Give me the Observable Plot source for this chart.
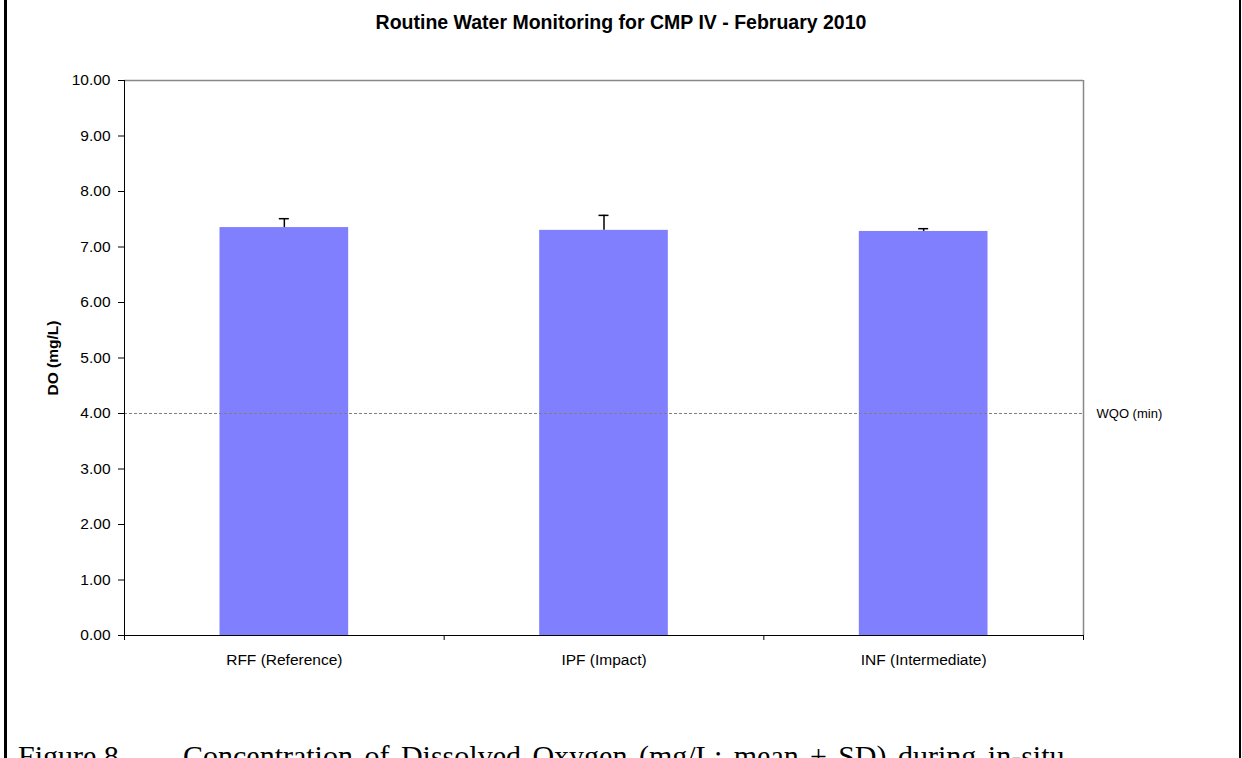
<!DOCTYPE html>
<html>
<head>
<meta charset="utf-8">
<script src="https://cdn.jsdelivr.net/npm/d3@7"></script>
<script src="https://cdn.jsdelivr.net/npm/@observablehq/plot@0.6"></script>
<style>
  html, body { margin: 0; padding: 0; background: #fff; }
  #page { position: relative; width: 1242px; height: 758px; overflow: hidden; background: #fff; }
  .bl { position: absolute; top: 0; width: 2.5px; height: 758px; background: #000; }
  #title { position: absolute; left: 0; width: 1242px; top: 12.5px; text-align: center;
    font-family: "Liberation Sans", Arial, sans-serif; font-weight: bold; font-size: 19.5px; line-height: 19.5px; color: #000; }
  #caption { position: absolute; left: 18px; top: 741.4px; white-space: nowrap; word-spacing: 4px;
    font-family: "Liberation Serif", "Times New Roman", serif; font-size: 30px; line-height: 30px; color: #000; }
  #caption .fig { display: inline-block; width: 165px; word-spacing: 0; }
  #chart { position: absolute; left: 0; top: 0; }
</style>
</head>
<body>
<div id="page">
  <div class="bl" style="left:4px"></div>
  <div class="bl" style="left:1238.8px"></div>
  <div id="title"></div>
  <div id="chart"></div>
  <div id="caption"><span class="fig">Figure 8</span>Concentration of Dissolved Oxygen (mg/L; mean ± SD) during in-situ</div>
</div>
<script>
const titleText = "Routine Water Monitoring for CMP IV - February 2010";
const yLabel = "DO (mg/L)";
const categories = ["RFF (Reference)", "IPF (Impact)", "INF (Intermediate)"];
const means = [7.35, 7.30, 7.28];
const sds = [0.16, 0.27, 0.05];
const yTicks = [0, 1, 2, 3, 4, 5, 6, 7, 8, 9, 10];
const wqoValue = 4;
const wqoLabel = "WQO (min)";

document.getElementById("title").textContent = titleText;

const data = categories.map((c, i) => ({cat: c, i, mean: means[i], top: means[i] + sds[i]}));
const bounds = d3.range(categories.length + 1);
const centers = categories.map((c, i) => i + 0.5);

const chart = Plot.plot({
  width: 1242,
  height: 700,
  marginLeft: 124,
  marginRight: 159,
  marginTop: 80,
  marginBottom: 65,
  style: {fontFamily: "'Liberation Sans', Arial, sans-serif", fontSize: "15.5px", color: "#000", background: "transparent"},
  x: {type: "linear", domain: [0, categories.length]},
  y: {domain: [0, 10]},
  marks: [
    Plot.rectY(data, {x1: d => d.i, x2: d => d.i + 1, y1: 0, y2: "mean", fill: "#8080FF", insetLeft: 95.5, insetRight: 95.5}),
    Plot.ruleY([wqoValue], {x1: 0, x2: categories.length, stroke: "#808080", strokeWidth: 1, strokeDasharray: "3,2"}),
    Plot.text([wqoLabel], {x: categories.length, y: wqoValue, dx: 13, textAnchor: "start", fontSize: 13, fill: "#000"}),
    Plot.ruleX(data, {x: d => d.i + 0.5, y1: "mean", y2: "top", stroke: "#000", strokeWidth: 1.5}),
    Plot.ruleY(data, {y: "top", x1: d => d.i + 0.5, x2: d => d.i + 0.5, insetLeft: -5, insetRight: -5, stroke: "#000", strokeWidth: 1.5}),
    Plot.ruleY([10], {stroke: "#888", strokeWidth: 1.5}),
    Plot.ruleX([categories.length], {stroke: "#888", strokeWidth: 1.5}),
    Plot.ruleX([0], {stroke: "#000", strokeWidth: 1}),
    Plot.ruleY([0], {stroke: "#000", strokeWidth: 1}),
    Plot.axisY({ticks: yTicks, tickFormat: d3.format(".2f"), tickSize: 6, tickPadding: 8, label: null, stroke: "#000"}),
    Plot.axisX({ticks: bounds, tickFormat: () => "", tickSize: 5, label: null, stroke: "#000"}),
    Plot.axisX({ticks: centers, tickFormat: (d) => categories[Math.floor(d)], tickSize: 0, tickPadding: 18, label: null}),
    Plot.text([yLabel], {frameAnchor: "left", dx: -71, rotate: -90, textAnchor: "middle", fontWeight: "bold", fontSize: 15.5, fill: "#000"})
  ]
});
document.getElementById("chart").appendChild(chart);
</script>
</body>
</html>
